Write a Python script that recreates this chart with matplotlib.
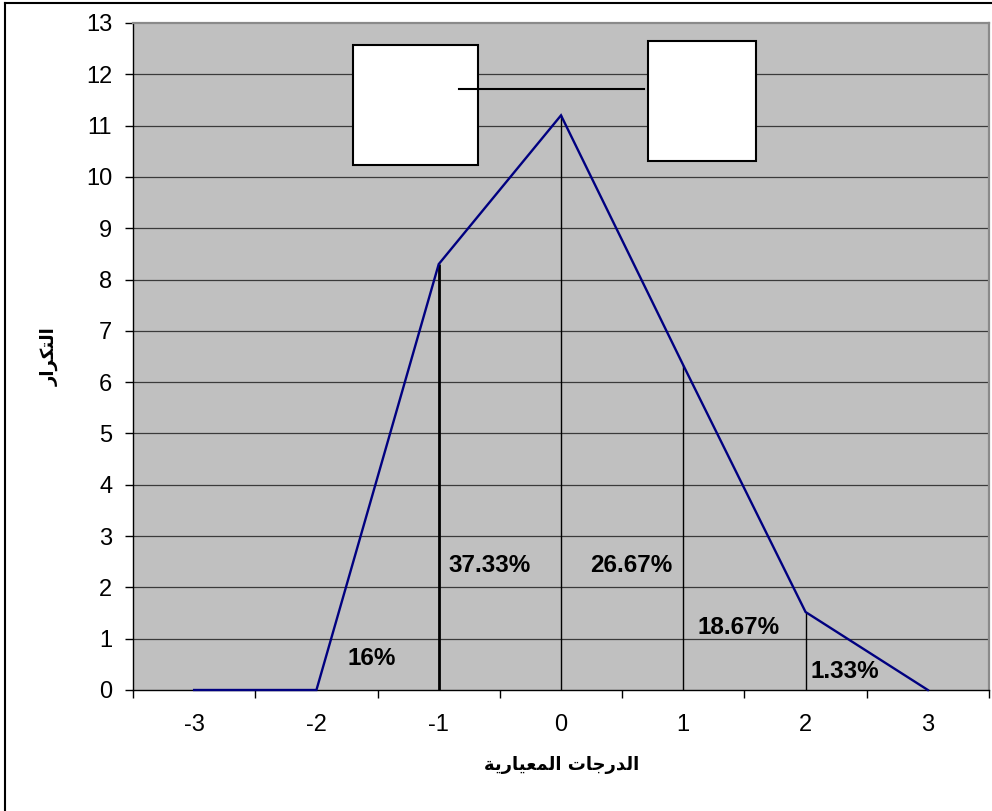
import matplotlib
matplotlib.use("Agg")
import matplotlib.pyplot as plt
from matplotlib.patches import Rectangle
from matplotlib.lines import Line2D

plt.rcParams["axes.unicode_minus"] = False

# ---- data -------------------------------------------------------------
z_scores = [-3, -2, -1, 0, 1, 2, 3]
frequency = [0, 0, 8.3, 11.2, 6.33, 1.52, 0]

# vertical guide lines at these standard scores (height = curve value)
guide_z = [-1, 0, 1, 2]
guide_widths = [2.0, 1.0, 1.0, 1.0]

# area percentages between standard scores
pct_labels = ["16%", "37.33%", "26.67%", "18.67%", "1.33%"]
pct_x = [-1.545, -0.582, 0.572, 1.456, 2.32]
pct_y = [0.62, 2.42, 2.42, 1.21, 0.357]

x_title = "الدرجات المعيارية"
y_title = "التكرار"


# ---- minimal Arabic shaping (presentation forms, visual order) ---------
FORMS = {
    'ا': (0xFE8D, 0xFE8E, None, None),
    'ل': (0xFEDD, 0xFEDE, 0xFEDF, 0xFEE0),
    'د': (0xFEA9, 0xFEAA, None, None),
    'ر': (0xFEAD, 0xFEAE, None, None),
    'ج': (0xFE9D, 0xFE9E, 0xFE9F, 0xFEA0),
    'ت': (0xFE95, 0xFE96, 0xFE97, 0xFE98),
    'م': (0xFEE1, 0xFEE2, 0xFEE3, 0xFEE4),
    'ع': (0xFEC9, 0xFECA, 0xFECB, 0xFECC),
    'ي': (0xFEF1, 0xFEF2, 0xFEF3, 0xFEF4),
    'ة': (0xFE93, 0xFE94, None, None),
    'ك': (0xFED9, 0xFEDA, 0xFEDB, 0xFEDC),
}


def shape_arabic(text):
    out = []
    n = len(text)
    for i, ch in enumerate(text):
        if ch not in FORMS:
            out.append(ch)
            continue
        iso, fin, ini, med = FORMS[ch]
        prev = text[i - 1] if i > 0 else None
        nxt = text[i + 1] if i < n - 1 else None
        joins_prev = prev in FORMS and FORMS[prev][2] is not None
        joins_next = ini is not None and nxt in FORMS
        if joins_prev and joins_next:
            cp = med
        elif joins_prev:
            cp = fin
        elif joins_next:
            cp = ini
        else:
            cp = iso
        out.append(chr(cp))
    return "".join(reversed(out))


# ---- figure -----------------------------------------------------------
W, H = 992, 811
fig = plt.figure(figsize=(W / 100, H / 100), dpi=100)
fig.patch.set_facecolor("white")

left, right, top, bottom = 133, 989, 23, 690
ax = fig.add_axes([left / W, 1 - bottom / H, (right - left) / W, (bottom - top) / H])
ax.set_facecolor("#C0C0C0")

ax.set_xlim(-3.5, 3.5)
ax.set_ylim(0, 13)

# horizontal grid
for v in range(1, 13):
    ax.axhline(v, color="#3a3a3a", lw=0.9, zorder=1)

# vertical guides
ax.vlines(guide_z, 0, [frequency[z_scores.index(z)] for z in guide_z],
          colors="black", linewidths=guide_widths, zorder=2)

# frequency polygon
ax.plot(z_scores, frequency, color="#000080", lw=1.7, zorder=3,
        solid_joinstyle="miter", clip_on=False)

# percentage labels
for lab, x, y in zip(pct_labels, pct_x, pct_y):
    ax.text(x, y, lab, ha="center", va="center", fontsize=17.5,
            fontweight="bold", family="Liberation Sans", zorder=4)

# two blank boxes joined by a connector
box_style = dict(facecolor="white", edgecolor="black", lw=1.5, zorder=5)
ax.add_patch(Rectangle((-1.70, 10.23), 1.022, 2.34, **box_style))
ax.add_patch(Rectangle((0.712, 10.31), 0.883, 2.34, **box_style))
ax.add_line(Line2D([-0.833, 0.68], [11.72, 11.72], color="black", lw=1.5, zorder=6))

# axes styling
for s in ("left", "bottom"):
    ax.spines[s].set_color("black")
    ax.spines[s].set_linewidth(1.0)
for s in ("top", "right"):
    ax.spines[s].set_color("#8a8a8a")
    ax.spines[s].set_linewidth(1.6)

ax.set_yticks(range(0, 14))
ax.tick_params(axis="y", direction="out", length=6, width=1, pad=9,
               labelsize=17, colors="black")
ax.set_xticks(z_scores)
ax.set_xticks([z - 0.5 for z in z_scores] + [3.5], minor=True)
ax.tick_params(axis="x", which="major", length=0, pad=17, labelsize=17)
ax.tick_params(axis="x", which="minor", direction="out", length=6, width=1)
for lbl in ax.get_xticklabels() + ax.get_yticklabels():
    lbl.set_family("Liberation Sans")

# axis titles
fig.text(562 / W, 1 - 765 / H, shape_arabic(x_title), ha="center", va="center",
         fontsize=13, fontweight="bold", family="DejaVu Sans")
fig.text(50 / W, 1 - 357 / H, shape_arabic(y_title), ha="center", va="center",
         rotation=90, fontsize=13, fontweight="bold", family="DejaVu Sans")

# outer frame
fig.add_artist(Line2D([5 / W, 5 / W], [0, 1 - 3 / H], transform=fig.transFigure,
                      color="black", lw=1.5))
fig.add_artist(Line2D([5 / W, 1], [1 - 3 / H, 1 - 3 / H], transform=fig.transFigure,
                      color="black", lw=1.5))

fig.savefig("out.png", dpi=100)
